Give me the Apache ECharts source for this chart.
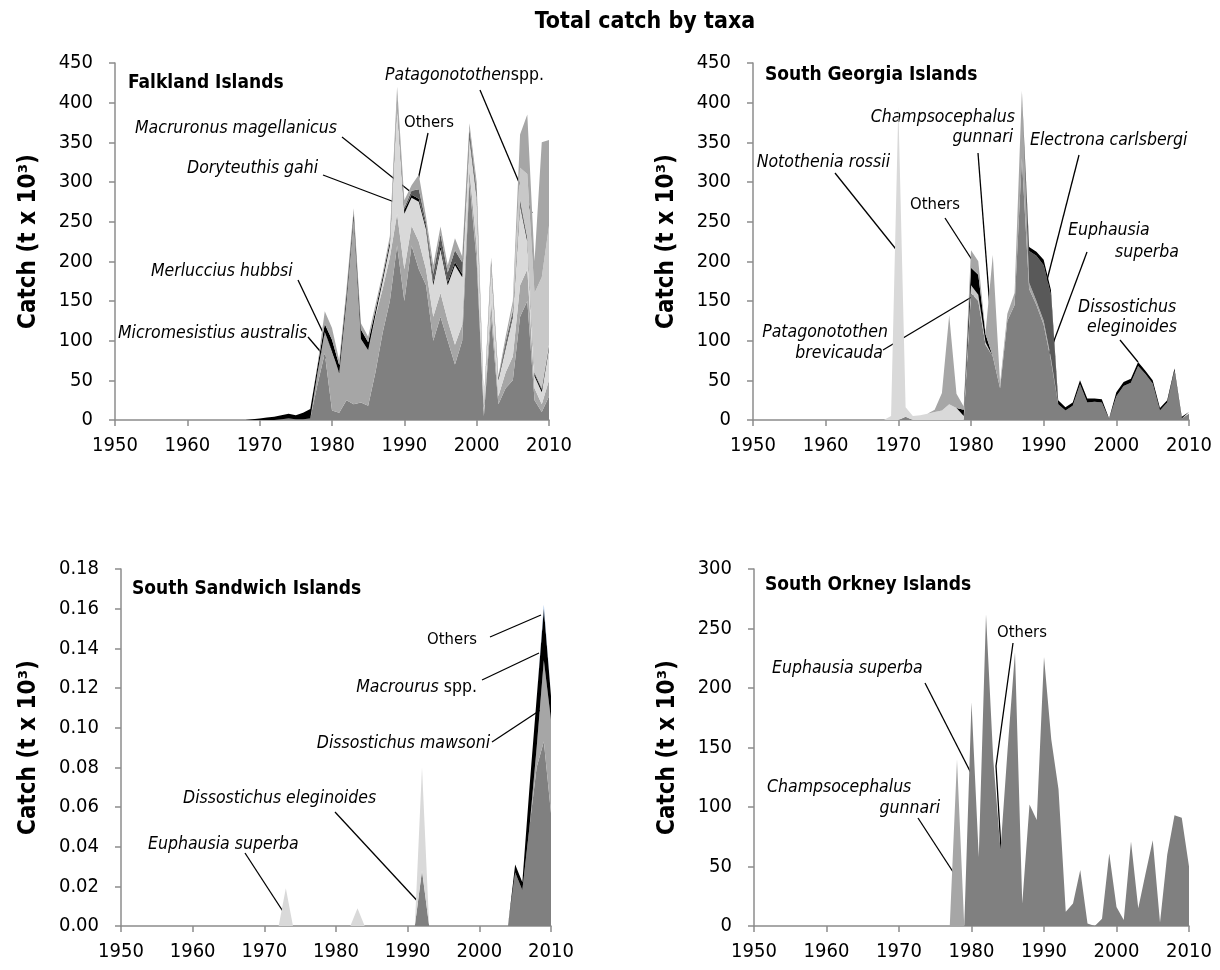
<!DOCTYPE html>
<html>
<head>
<meta charset="utf-8">
<title>Total catch by taxa</title>
<script src="https://cdn.jsdelivr.net/npm/echarts@6.0.0/dist/echarts.min.js"></script>
<style>
  html, body { margin: 0; padding: 0; background: #ffffff; }
  #chart { width: 1220px; height: 970px; }
</style>
</head>
<body>
<div id="chart"></div>
<script>
// ---- categories (fishing years) ----
const years = [
  1950,1951,1952,1953,1954,1955,1956,1957,1958,1959,
  1960,1961,1962,1963,1964,1965,1966,1967,1968,1969,
  1970,1971,1972,1973,1974,1975,1976,1977,1978,1979,
  1980,1981,1982,1983,1984,1985,1986,1987,1988,1989,
  1990,1991,1992,1993,1994,1995,1996,1997,1998,1999,
  2000,2001,2002,2003,2004,2005,2006,2007,2008,2009,
  2010
];

// ---- Falkland Islands (t x 10^3), 1950..2010 ----
// rows: 1950-1968 | 1969-1988 | 1989-2008 | 2009-2010
const fkIllex = [
  0,0,0,0,0,0,0,0,0,0, 0,0,0,0,0,0,0,0,0,
  0,0,0,0,1,2,1,1,2,45, 84,12,9,25,20,22,18,60,110,150,
  220,150,220,190,170,100,130,100,70,100, 300,200,5,130,20,40,50,130,150,25,
  10,30
];
const fkMicromesistius = [
  0,0,0,0,0,0,0,0,0,0, 0,0,0,0,0,0,0,0,0,
  0,0,0,0,0,0,0,0,0,15, 27,75,50,125,235,80,70,70,55,55,
  40,40,25,35,20,30,30,25,25,20, 15,20,5,20,10,20,30,40,40,15,
  10,20
];
const fkDoryteuthis = [
  0,0,0,0,0,0,0,0,0,0, 0,0,0,0,0,0,0,0,0,
  0,0,0,0,0,0,0,0,0,0, 0,0,0,0,0,0,0,2,10,15,
  140,70,35,50,50,40,55,45,100,60, 40,60,5,45,20,30,50,100,35,15,
  15,40
];
const fkMerluccius = [
  0,0,0,0,0,0,0,0,0,0, 0,0,0,0,0,0,0,0,0,
  1,2,3,4,5,6,5,8,12,8, 10,14,10,8,6,12,10,6,5,5,
  4,5,4,4,4,4,4,4,4,4, 4,4,2,3,2,3,3,3,3,3,
  3,3
];
const fkMacruronus = [
  0,0,0,0,0,0,0,0,0,0, 0,0,0,0,0,0,0,0,0,
  0,0,0,0,0,0,0,0,0,0, 0,0,0,0,0,0,0,0,0,0,
  3,3,5,12,5,10,15,12,15,15, 8,6,2,3,2,5,5,5,2,2,
  2,2
];
const fkPatagonotothen = [
  0,0,0,0,0,0,0,0,0,0, 0,0,0,0,0,0,0,0,0,
  0,0,0,0,0,0,0,0,0,0, 0,0,0,0,0,0,0,0,0,0,
  0,0,0,0,0,0,0,0,0,0, 0,0,0,0,0,0,5,40,80,100,
  140,150
];
const fkOthers = [
  0,0,0,0,0,0,0,0,0,0, 0,0,0,0,0,0,0,0,0,
  0,0,0,0,0,0,0,0,0,2, 16,15,6,7,6,8,7,7,5,7,
  13,9,7,18,7,11,10,9,15,7, 7,10,1,4,1,7,7,42,75,40,
  170,108
];

// ---- South Georgia Islands (t x 10^3) ----
const sgEuphausia = [
  0,0,0,0,0,0,0,0,0,0, 0,0,0,0,0,0,0,0,0,
  0,0,4,0,0,0,0,0,0,0, 0,160,150,95,80,40,125,145,330,165,
  145,120,75,20,12,18,45,22,23,22, 1,30,43,47,68,58,46,12,22,62,
  2,8
];
const sgBrevicauda = [
  0,0,0,0,0,0,0,0,0,0, 0,0,0,0,0,0,0,0,0,
  0,0,0,0,0,0,0,0,0,0, 0,10,8,3,0,0,0,0,0,0,
  0,0,0,0,0,0,0,0,0,0, 0,0,0,0,0,0,0,0,0,0,
  0,0
];
const sgRossii = [
  0,0,0,0,0,0,0,0,0,0, 0,0,0,0,0,0,0,0,0,
  5,395,12,5,6,8,10,12,20,15, 5,0,0,0,0,0,0,0,0,0,
  0,0,0,0,0,0,0,0,0,0, 0,0,0,0,0,0,0,0,0,0,
  0,0
];
const sgOthers = [
  0,0,0,0,0,0,0,0,0,0, 0,0,0,0,0,0,0,0,0,
  0,0,0,0,0,0,0,0,0,0, 8,22,25,10,0,0,0,0,0,0,
  0,0,0,0,0,0,0,0,0,0, 0,0,0,0,0,0,0,0,0,0,
  0,0
];
const sgGunnari = [
  0,0,0,0,0,0,0,0,0,0, 0,0,0,0,0,0,0,0,0,
  0,0,0,0,0,0,3,22,112,18, 4,22,17,2,128,6,9,15,85,8,
  5,5,3,0,0,0,0,0,0,0, 0,0,0,0,0,0,0,0,0,0,
  0,0
];
const sgElectrona = [
  0,0,0,0,0,0,0,0,0,0, 0,0,0,0,0,0,0,0,0,
  0,0,0,0,0,0,0,0,0,0, 0,0,0,0,0,0,0,0,0,40,
  57,70,80,0,0,0,0,0,0,0, 0,0,0,0,0,0,0,0,0,0,
  0,0
];
const sgDissostichus = [
  0,0,0,0,0,0,0,0,0,0, 0,0,0,0,0,0,0,0,0,
  0,0,0,0,0,0,0,0,0,0, 0,0,0,0,0,0,0,0,0,5,
  5,7,6,5,4,4,5,5,4,4, 1,5,5,5,5,4,4,3,3,3,
  2,2
];

// ---- South Sandwich Islands (t x 10^3) ----
// rows: 1950-1969 | 1970-1989 | 1990-2009 | 2010
const ssDissEleginoides = [
  0,0,0,0,0,0,0,0,0,0, 0,0,0,0,0,0,0,0,0,0,
  0,0,0,0,0,0,0,0,0,0, 0,0,0,0,0,0,0,0,0,0,
  0,0,0.028,0,0,0,0,0,0,0, 0,0,0,0,0,0.027,0.018,0.050,0.080,0.093,
  0.057
];
const ssDissMawsoni = [
  0,0,0,0,0,0,0,0,0,0, 0,0,0,0,0,0,0,0,0,0,
  0,0,0,0,0,0,0,0,0,0, 0,0,0,0,0,0,0,0,0,0,
  0,0,0,0,0,0,0,0,0,0, 0,0,0,0,0,0,0,0,0.010,0.041,
  0.047
];
const ssEuphausia = [
  0,0,0,0,0,0,0,0,0,0, 0,0,0,0,0,0,0,0,0,0,
  0,0,0,0.019,0,0,0,0,0,0, 0,0,0,0.009,0,0,0,0,0,0,
  0,0,0.052,0,0,0,0,0,0,0, 0,0,0,0,0,0,0,0,0,0,
  0
];
const ssMacrourus = [
  0,0,0,0,0,0,0,0,0,0, 0,0,0,0,0,0,0,0,0,0,
  0,0,0,0,0,0,0,0,0,0, 0,0,0,0,0,0,0,0,0,0,
  0,0,0,0,0,0,0,0,0,0, 0,0,0,0,0,0.004,0.004,0.020,0.025,0.026,
  0.012
];
const ssOthers = [
  0,0,0,0,0,0,0,0,0,0, 0,0,0,0,0,0,0,0,0,0,
  0,0,0,0,0,0,0,0,0,0, 0,0,0,0,0,0,0,0,0,0,
  0,0,0,0,0,0,0,0,0,0, 0,0,0,0,0,0,0,0,0,0.002,
  0.001
];

// ---- South Orkney Islands (t x 10^3) ----
const soEuphausia = [
  0,0,0,0,0,0,0,0,0,0, 0,0,0,0,0,0,0,0,0,0,
  0,0,0,0,0,0,0,0,0,0, 188,58,262,140,64,150,230,19,102,89,
  226,157,115,12,19,47,2,0,6,61, 16,5,71,15,44,72,3,60,93,91,
  50
];
const soGunnari = [
  0,0,0,0,0,0,0,0,0,0, 0,0,0,0,0,0,0,0,0,0,
  0,0,0,0,0,0,0,0,140,0, 0,0,0,0,0,0,0,0,0,0,
  0,0,0,0,0,0,0,0,0,0, 0,0,0,0,0,0,0,0,0,0,
  0
];

// ---- axis ranges and tick steps ----
const panelMax = [450, 450, 0.18, 300];
const panelStep = [50, 50, 0.02, 50];

const FONT = "'DejaVu Sans Condensed', 'DejaVu Sans', sans-serif";
const AXIS_COLOR = '#8c8c8c';
const C_DARK = '#808080', C_MID = '#a6a6a6', C_LIGHT = '#d9d9d9',
      C_PALE = '#c8c8c8', C_DEEP = '#595959', C_BLACK = '#000000';

const grids = [
  { left: 115, top: 63,  width: 434, height: 357 },
  { left: 753, top: 63,  width: 436, height: 357 },
  { left: 121, top: 569, width: 430, height: 357 },
  { left: 754, top: 569, width: 435, height: 357 }
];

const xAxes = grids.map((g, i) => ({
  type: 'category', gridIndex: i, data: years, boundaryGap: false,
  axisLine: { lineStyle: { color: AXIS_COLOR, width: 1.5 } },
  axisTick: { interval: 9, length: 6, lineStyle: { color: AXIS_COLOR, width: 1.5 } },
  axisLabel: { interval: 9, margin: 16, fontFamily: FONT, fontSize: 20, color: '#000' },
  splitLine: { show: false }
}));

const yAxes = grids.map((g, i) => ({
  type: 'value', gridIndex: i, min: 0, max: panelMax[i], interval: panelStep[i],
  name: 'Catch (t x 10³)', nameLocation: 'middle', nameRotate: 90,
  nameGap: i === 2 ? 80 : 74,
  nameTextStyle: { fontFamily: FONT, fontSize: 24, fontWeight: 'bold', color: '#000' },
  axisLine: { show: true, lineStyle: { color: AXIS_COLOR, width: 1.5 } },
  axisTick: { show: true, length: 6, lineStyle: { color: AXIS_COLOR, width: 1.5 } },
  axisLabel: {
    margin: 22, fontFamily: FONT, fontSize: 20, color: '#000',
    formatter: v => (i === 2 ? v.toFixed(2) : String(v))
  },
  splitLine: { show: false }
}));

function area(name, data, color, idx) {
  return {
    name, type: 'line', data, xAxisIndex: idx, yAxisIndex: idx,
    stack: 'panel' + idx, symbol: 'none', smooth: false,
    lineStyle: { width: 0 }, areaStyle: { color, opacity: 1 },
    emphasis: { disabled: true }, silent: true
  };
}

const series = [
  area('Illex argentinus', fkIllex, C_DARK, 0),
  area('Micromesistius australis', fkMicromesistius, C_MID, 0),
  area('Doryteuthis gahi', fkDoryteuthis, C_LIGHT, 0),
  area('Merluccius hubbsi', fkMerluccius, C_BLACK, 0),
  area('Macruronus magellanicus', fkMacruronus, C_DEEP, 0),
  area('Patagonotothen spp.', fkPatagonotothen, C_PALE, 0),
  area('Others', fkOthers, C_MID, 0),

  area('Euphausia superba', sgEuphausia, C_DARK, 1),
  area('Patagonotothen brevicauda', sgBrevicauda, C_PALE, 1),
  area('Notothenia rossii', sgRossii, C_LIGHT, 1),
  area('Others', sgOthers, C_BLACK, 1),
  area('Champsocephalus gunnari', sgGunnari, C_MID, 1),
  area('Electrona carlsbergi', sgElectrona, C_DEEP, 1),
  area('Dissostichus eleginoides', sgDissostichus, C_BLACK, 1),

  area('Dissostichus eleginoides', ssDissEleginoides, C_DARK, 2),
  area('Dissostichus mawsoni', ssDissMawsoni, C_MID, 2),
  area('Euphausia superba', ssEuphausia, C_LIGHT, 2),
  area('Macrourus spp.', ssMacrourus, C_BLACK, 2),
  area('Others', ssOthers, '#8db3e2', 2),

  area('Euphausia superba', soEuphausia, C_DARK, 3),
  area('Champsocephalus gunnari', soGunnari, C_MID, 3)
];

// ---- annotation text ----
const LABEL_SIZE = 17.5;
const rich = {
  i: { fontFamily: FONT, fontSize: LABEL_SIZE, fontStyle: 'italic', fill: '#000' },
  n: { fontFamily: FONT, fontSize: LABEL_SIZE, fill: '#000' },
  o: { fontFamily: FONT, fontSize: 16.5, fill: '#000' }
};
function label(x, y, text, align) {
  return {
    type: 'text', x, y, silent: true,
    style: { text, rich, textAlign: align || 'left', textVerticalAlign: 'middle',
             font: LABEL_SIZE + 'px ' + FONT, fill: '#000' }
  };
}
function heading(x, y, text) {
  return {
    type: 'text', x, y, silent: true,
    style: { text, textAlign: 'left', textVerticalAlign: 'middle',
             font: 'bold 19px ' + FONT, fill: '#000' }
  };
}
function leader(x1, y1, x2, y2) {
  return { type: 'line', silent: true, shape: { x1, y1, x2, y2 },
           style: { stroke: '#000', lineWidth: 1.3 } };
}
function leaderPath(points) {
  return { type: 'polyline', silent: true, shape: { points },
           style: { stroke: '#000', lineWidth: 1.3, fill: null } };
}

const graphics = [
  { type: 'text', x: 645, y: 22, silent: true,
    style: { text: 'Total catch by taxa', textAlign: 'center', textVerticalAlign: 'middle',
             font: 'bold 23px ' + FONT, fill: '#000' } },

  // Falkland Islands
  heading(128, 83, 'Falkland Islands'),
  label(135, 128, '{i|Macruronus magellanicus}'),
  label(187, 168, '{i|Doryteuthis gahi}'),
  label(151, 271, '{i|Merluccius hubbsi}'),
  label(118, 333, '{i|Micromesistius australis}'),
  label(404, 123, '{o|Others}'),
  label(385, 75, '{i|Patagonotothen}{n|spp.}'),
  label(388, 375, '{i|Illex}'),
  label(388, 397, '{i|argentinus}'),
  leader(342, 137, 412, 193),
  leader(323, 175, 397, 203),
  leader(428, 133, 417, 185),
  leader(480, 90, 532, 213),
  leader(298, 280, 337, 362),
  leader(308, 337, 343, 378),

  // South Georgia Islands
  heading(765, 75, 'South Georgia Islands'),
  label(1015, 117, '{i|Champsocephalus}', 'right'),
  label(1013, 137, '{i|gunnari}', 'right'),
  label(1030, 140, '{i|Electrona carlsbergi}'),
  label(890, 162, '{i|Notothenia rossii}', 'right'),
  label(910, 205, '{o|Others}'),
  label(1068, 230, '{i|Euphausia}'),
  label(1115, 252, '{i|superba}'),
  label(1078, 307, '{i|Dissostichus}'),
  label(1087, 327, '{i|eleginoides}'),
  label(888, 332, '{i|Patagonotothen}', 'right'),
  label(883, 353, '{i|brevicauda}', 'right'),
  leader(835, 173, 899, 253),
  leader(945, 218, 974, 263),
  leader(978, 153, 993, 347),
  leader(1079, 155, 1045, 288),
  leader(1087, 252, 1042, 373),
  leader(1120, 340, 1138, 362),
  leader(883, 350, 975, 295),

  // South Sandwich Islands
  heading(132, 589, 'South Sandwich Islands'),
  label(183, 798, '{i|Dissostichus eleginoides}'),
  label(148, 844, '{i|Euphausia superba}'),
  label(477, 640, '{o|Others}', 'right'),
  label(477, 687, '{i|Macrourus}{n| spp.}', 'right'),
  label(490, 743, '{i|Dissostichus mawsoni}', 'right'),
  leader(245, 853, 284, 913),
  leader(335, 812, 423, 907),
  leader(490, 637, 541, 615),
  leader(482, 680, 539, 653),
  leader(492, 742, 545, 707),

  // South Orkney Islands
  heading(765, 585, 'South Orkney Islands'),
  label(997, 633, '{o|Others}'),
  label(772, 668, '{i|Euphausia superba}'),
  label(767, 787, '{i|Champsocephalus}'),
  label(940, 808, '{i|gunnari}', 'right'),
  leader(925, 683, 973, 777),
  leaderPath([[1013, 643], [996, 766], [1001, 849]]),
  leader(918, 818, 957, 878)
];

const chart = echarts.init(document.getElementById('chart'), null, { renderer: 'canvas' });
chart.setOption({
  animation: false,
  backgroundColor: '#ffffff',
  grid: grids,
  xAxis: xAxes,
  yAxis: yAxes,
  series,
  graphic: graphics
});
</script>
</body>
</html>
